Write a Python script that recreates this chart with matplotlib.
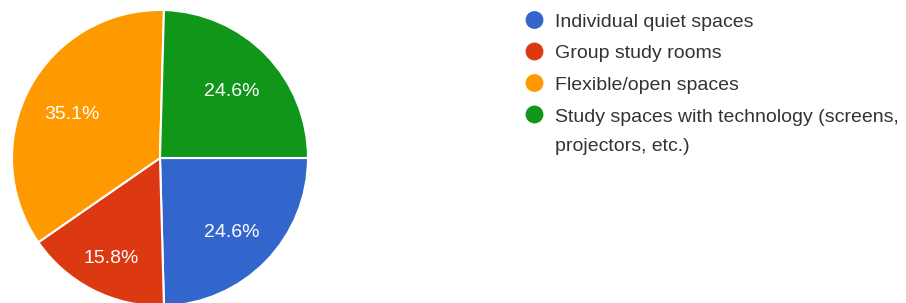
import matplotlib
matplotlib.use("Agg")
import matplotlib.pyplot as plt

plt.rcParams['font.family'] = ['Liberation Sans', 'DejaVu Sans']

# survey answers (percent of responses)
labels = ["Individual quiet spaces", "Group study rooms", "Flexible/open spaces",
          "Study spaces with technology (screens,\nprojectors, etc.)"]
shares = [24.6, 15.8, 35.1, 24.6]
colors = ["#3366cc", "#dc3912", "#ff9900", "#109618"]

W, H = 906, 303
fig = plt.figure(figsize=(W / 100, H / 100), dpi=100)

# pie: centre at (160, 158) px, radius 148 px
cx, cy, r = 160, 158, 148
ax = fig.add_axes([(cx - r) / W, (H - cy - r) / H, 2 * r / W, 2 * r / H])
wedges, texts, autotexts = ax.pie(
    shares, colors=colors, startangle=0, counterclock=False,
    autopct='%.1f%%', pctdistance=0.68, radius=1,
    wedgeprops=dict(edgecolor='white', linewidth=1.5),
    textprops=dict(color='white', fontsize=14))
for i, t in enumerate(autotexts):
    x, y = t.get_position()
    if i == 1:  # the small slice label sits a little further out
        x, y = x * 1.08, y * 1.08
    t.set_position((x, y - 4 / r))
ax.set_xlim(-1, 1)
ax.set_ylim(-1, 1)
ax.set_aspect('equal')
ax.axis('off')

# legend drawn by hand in pixel coordinates
lax = fig.add_axes([0, 0, 1, 1])
lax.set_xlim(0, W)
lax.set_ylim(H, 0)
lax.axis('off')
row_y = 20
for lab, col in zip(labels, colors):
    lax.scatter([534.5], [row_y], s=165, color=col, edgecolors='none')
    lax.text(555, row_y - 6, lab, fontsize=14, color='#333333',
             va='top', ha='left', linespacing=1.93)
    row_y += 31.5

fig.savefig("out.png", dpi=100)
